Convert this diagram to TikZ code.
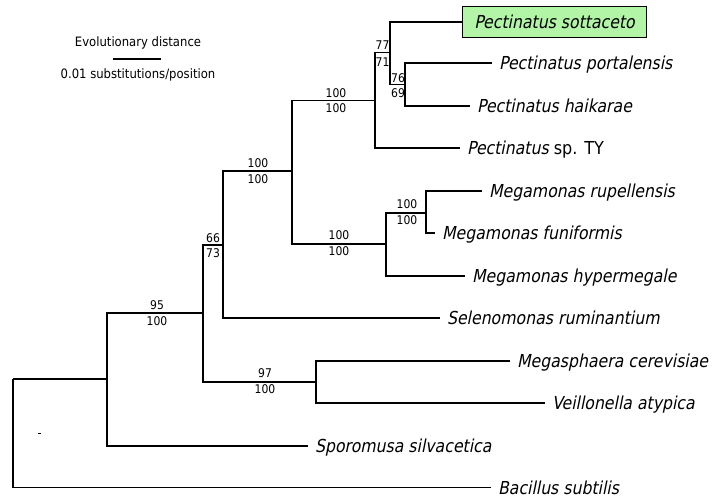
\documentclass[tikz,border=0pt]{standalone}
\usepackage{fontspec}
\setmainfont{DejaVu Sans}[FakeStretch=0.9]
\newfontfamily\spit{DejaVu Sans}[FakeStretch=0.88, FakeSlant=0.2]
\definecolor{hlgreen}{RGB}{178,245,166}
\begin{document}
\begin{tikzpicture}[x=0.75pt,y=-0.75pt, line width=1pt,
  leaf/.style={anchor=west, inner xsep=4.8pt, inner ysep=0pt, text height=9.8pt, text depth=0pt, font=\fontsize{13.4}{16}\spit},
  hl/.style={leaf, draw, fill=hlgreen, inner xsep=6.2pt, inner ysep=6.4pt, minimum width=138pt, line width=0.8pt},
  bs/.style={font=\fontsize{9}{10}\selectfont, inner sep=0pt},
  lg/.style={font=\fontsize{9.7}{11}\selectfont, anchor=base, inner sep=0pt}]
\useasboundingbox (0,0) rectangle (712,502);
% internal nodes
\coordinate (R) at (13,379);
\coordinate (A) at (107,379);
\coordinate (B) at (203,313);
\coordinate (C) at (316,382);
\coordinate (D) at (223,245);
\coordinate (E) at (292,171);
\coordinate (F) at (386,244);
\coordinate (G) at (426,213);
\coordinate (H) at (375,100.5);
\coordinate (I) at (390,52.5);
\coordinate (J) at (405,84.5);
% leaves
\node[hl] (sot) at (462,22) {Pectinatus sottaceto};
\node[leaf] (por) at (492,63) {Pectinatus portalensis};
\node[leaf] (hai) at (470,106) {Pectinatus haikarae};
\node[leaf] (sty) at (460,148) {Pectinatus {\rmfamily sp. TY}};
\node[leaf] (rup) at (482,191) {Megamonas rupellensis};
\node[leaf] (fun) at (435,233) {Megamonas funiformis};
\node[leaf] (hyp) at (465,276) {Megamonas hypermegale};
\node[leaf] (sel) at (440,318) {Selenomonas ruminantium};
\node[leaf] (mcer) at (510,361) {Megasphaera cerevisiae};
\node[leaf] (vei) at (545,403) {Veillonella atypica};
\node[leaf] (spo) at (308,446) {Sporomusa silvacetica};
\node[leaf] (bac) at (491,487.5) {Bacillus subtilis};
% branches
\draw (R) -- (A);
\draw (R) |- (bac.west);
\draw (A) |- (B);
\draw (A) |- (spo.west);
\draw (B) |- (D);
\draw (B) |- (C);
\draw (C) |- (mcer.west);
\draw (C) |- (vei.west);
\draw (D) |- (E);
\draw (D) |- (sel.west);
\draw (E) |- (H);
\draw (E) |- (F);
\draw (F) |- (G);
\draw (F) |- (hyp.west);
\draw (G) |- (rup.west);
\draw (G) |- (fun.west);
\draw (H) |- (I);
\draw (H) |- (sty.west);
\draw (I) |- (sot.west);
\draw (I) |- (J);
\draw (J) |- (por.west);
\draw (J) |- (hai.west);
% bootstrap values
\node[bs] (n1a) at (157,305) {95};
\node[bs] (n1b) at (157,321.5) {100};
\node[bs] (n2a) at (265,373.5) {97};
\node[bs] (n2b) at (265,389.5) {100};
\node[bs] (n3a) at (213,238.3) {66};
\node[bs] (n3b) at (213,253.3) {73};
\node[bs] (n4a) at (258,163) {100};
\node[bs] (n4b) at (258,179) {100};
\node[bs] (n5a) at (339,235) {100};
\node[bs] (n5b) at (339,251) {100};
\node[bs] (n6a) at (407,204) {100};
\node[bs] (n6b) at (407,220.5) {100};
\node[bs] (n7a) at (336,92.7) {100};
\node[bs] (n7b) at (336,108.3) {100};
\node[bs] (n8a) at (382.5,45) {77};
\node[bs] (n8b) at (382.5,62) {71};
\node[bs] (n9a) at (398,77.7) {76};
\node[bs] (n9b) at (398,93) {69};
% legend
\node[lg] (lt) at (138,46.5) {Evolutionary distance};
\coordinate (s1) at (113,59);
\coordinate (s2) at (161,59);
\draw (s1) -- (s2);
\node[lg] (lb) at (138,79) {0.01 substitutions/position};
% stray mark
\fill (38,432.6) rectangle (40.5,433.8);
\end{tikzpicture}
\end{document}
